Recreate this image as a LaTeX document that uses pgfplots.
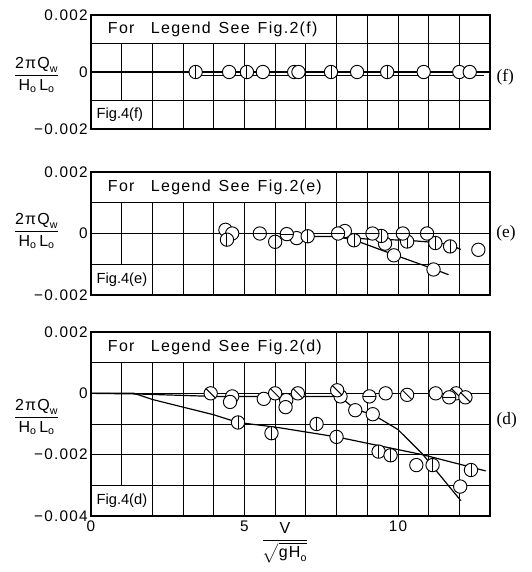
\documentclass[border=0pt]{standalone}
\usepackage{pgfplots}
\pgfplotsset{compat=1.18}
\usepackage{amsmath}
\usepackage{fontspec}
\setmainfont{Liberation Sans}[LetterSpace=8]
\newfontfamily\serif{Liberation Serif}

% circle marks with a stroke through them
\pgfdeclareplotmark{cv}{%
  \pgfpathcircle{\pgfpointorigin}{\pgfplotmarksize}\pgfusepathqfillstroke
  \pgfpathmoveto{\pgfqpoint{0pt}{\pgfplotmarksize}}%
  \pgfpathlineto{\pgfqpoint{0pt}{-\pgfplotmarksize}}\pgfusepathqstroke}
\pgfdeclareplotmark{ch}{%
  \pgfpathcircle{\pgfpointorigin}{\pgfplotmarksize}\pgfusepathqfillstroke
  \pgfpathmoveto{\pgfqpoint{-\pgfplotmarksize}{0pt}}%
  \pgfpathlineto{\pgfqpoint{\pgfplotmarksize}{0pt}}\pgfusepathqstroke}
\pgfdeclareplotmark{cd}{%
  \pgfpathcircle{\pgfpointorigin}{\pgfplotmarksize}\pgfusepathqfillstroke
  \pgfpathmoveto{\pgfqpoint{-0.707\pgfplotmarksize}{0.707\pgfplotmarksize}}%
  \pgfpathlineto{\pgfqpoint{0.707\pgfplotmarksize}{-0.707\pgfplotmarksize}}\pgfusepathqstroke}

\pgfplotsset{
  panel/.style={
    scale only axis, width=299.25pt,
    anchor=north west,
    xmin=0, xmax=13, xtick={0,...,13}, xticklabels={},
    scaled y ticks=false,
    grid=major, major grid style={black, line width=0.55pt},
    axis line style={line width=0.9pt},
    tick style={draw=none},
    tick label style={font=\fontsize{11.5}{12}\selectfont},
    yticklabel style={xshift=1pt},
  },
  fit/.style={black, line width=0.9pt, mark=none},
  op/.style={only marks, mark=*, mark size=5pt, mark options={fill=white, draw=black, line width=0.7pt}},
  vv/.style={op, mark=cv},
  hh/.style={op, mark=ch},
  dd/.style={op, mark=cd},
}
\newcommand{\legbox}[1]{%
  \fill[white] (axis cs:0,0.001) rectangle (axis cs:8,0.002);
  \draw[line width=0.9pt] (axis cs:0,0.001) rectangle (axis cs:8,0.002);
  \node[anchor=west, font=\fontsize{12}{13}\selectfont] at (axis cs:0.4,0.0015) {For\enspace\, Legend\enspace See\enspace Fig.2(#1)};}
\newcommand{\figbox}[2]{%
  \fill[white] (axis cs:0,#2) rectangle (axis cs:2,#2+0.001);
  \draw[line width=0.9pt] (axis cs:0,#2) rectangle (axis cs:2,#2+0.001);
  \node[anchor=west, font=\fontsize{11}{12}\selectfont\addfontfeature{LetterSpace=0}] at (axis cs:0.03,#2+0.0005) {Fig.4(#1)};}
\newcommand{\qlabel}{$\dfrac{\text{2πQ}_{\text{w}}}{\text{H}_{\text{o}}\,\text{L}_{\text{o}}}$}

\begin{document}
\begin{tikzpicture}
\useasboundingbox (0,0) rectangle (399pt,-429pt);

% ---- (f)
\begin{axis}[panel, at={(68.25pt,-11.25pt)}, height=85.5pt,
  ymin=-0.002, ymax=0.002, ytick={-0.002,-0.001,0,0.001,0.002},
  yticklabels={−0.002,,0,,0.002}]
\legbox{f}
\figbox{f}{-0.002}
\addplot[fit] coordinates {(0,0) (13,0)};
\addplot[black, line width=0.7pt] coordinates {(3.4,-0.00011) (12.8,-0.00011)};
\addplot[op] coordinates {(4.5,0) (5.6,0) (6.62,0) (6.76,0) (8.67,0) (10.84,0) (12.0,0) (12.34,0)};
\addplot[vv] coordinates {(3.41,0) (5.08,0) (7.82,0) (9.65,0)};
\end{axis}

% ---- (e)
\begin{axis}[panel, at={(68.25pt,-129pt)}, height=92.25pt,
  ymin=-0.002, ymax=0.002, ytick={-0.002,-0.001,0,0.001,0.002},
  yticklabels={−0.002,,0,,0.002}]
\legbox{e}
\figbox{e}{-0.002}
\addplot[fit] coordinates {(0,0) (12,0)};
\addplot[fit] coordinates {(6.9,-0.0001) (8.0,-0.0001) (9.0,-0.00018) (10.3,-0.00022) (11.3,-0.0003) (11.76,-0.00039) (12.05,-0.00052)};
\addplot[fit] coordinates {(8.0,-0.0001) (8.6,-0.00022) (9.9,-0.0007) (11.18,-0.00116) (11.65,-0.00134)};
\addplot[op] coordinates {(4.38,0.00012) (4.6,0) (6.7,-0.00015) (8.27,0.00008) (9.58,-0.00033) (9.87,-0.00071) (11.16,-0.00117) (12.62,-0.00053)};
\addplot[vv] coordinates {(4.43,-0.0002) (6.0,-0.00027) (7.06,-0.00009) (8.57,-0.00022) (9.46,-0.00008) (10.3,-0.00026) (11.22,-0.00031) (11.7,-0.00042)};
\addplot[hh] coordinates {(5.5,0) (6.38,-0.00002) (8.05,0) (9.17,0) (10.16,0) (10.95,0)};
\end{axis}

% ---- (d)
\begin{axis}[panel, at={(68.25pt,-249pt)}, height=138pt,
  ymin=-0.004, ymax=0.002, ytick={-0.004,-0.003,...,0.002},
  yticklabels={−0.004,,−0.002,,0,,0.002},
  xticklabels={0,,,,,5,,,,,10,,,}]
\legbox{d}
\figbox{d}{-0.004}
\addplot[fit] coordinates {(0,0) (13,0)};
\addplot[fit] coordinates {(0,0) (1.4,0) (2.0,-0.0002) (3.0,-0.00045) (4.0,-0.0007) (4.79,-0.00095) (6.0,-0.0011) (8.0,-0.00142) (10.8,-0.002) (12.86,-0.00253)};
\addplot[fit] coordinates {(0,0) (1.5,-0.00002) (4,-0.0001) (8.1,-0.0001) (8.61,-0.00052) (9.2,-0.0007) (10.0,-0.00118) (10.8,-0.00198) (12.05,-0.0035)};
\addplot[op] coordinates {(4.6,-0.0001) (4.53,-0.00028) (5.63,-0.00018) (6.36,-0.00022) (6.34,-0.00045) (8.13,-0.0001) (8.61,-0.00055) (9.18,-0.00068) (9.6,0) (11.23,0) (10.6,-0.00234) (12.03,-0.00304)};
\addplot[dd] coordinates {(3.9,0) (6.0,0) (6.74,0) (8.02,0.0001) (10.3,-0.00005) (11.9,0) (12.2,-0.00013)};
\addplot[hh] coordinates {(9.07,-0.0001) (11.67,-0.00013)};
\addplot[vv] coordinates {(4.79,-0.00095) (5.88,-0.0013) (7.35,-0.001) (8.0,-0.00142) (9.37,-0.0019) (9.76,-0.00202) (11.13,-0.00234) (12.38,-0.0025)};
\end{axis}

% axis titles
\node[font=\fontsize{12}{13}\selectfont] at (27.5pt,-56.25pt) {\qlabel};
\node[font=\fontsize{12}{13}\selectfont] at (27.5pt,-173.25pt) {\qlabel};
\node[font=\fontsize{12}{13}\selectfont] at (27.5pt,-312.75pt) {\qlabel};
\node[font=\serif\fontsize{13}{14}\selectfont] at (379pt,-57.75pt) {(f)};
\node[font=\serif\fontsize{13}{14}\selectfont] at (379.5pt,-174.75pt) {(e)};
\node[font=\serif\fontsize{13}{14}\selectfont] at (380pt,-315pt) {(d)};
\node[font=\fontsize{12}{13}\selectfont] at (213.75pt,-407pt) {$\dfrac{\text{V}}{\sqrt{\text{gH}_{\text{o}}}}$};
\end{tikzpicture}
\end{document}
